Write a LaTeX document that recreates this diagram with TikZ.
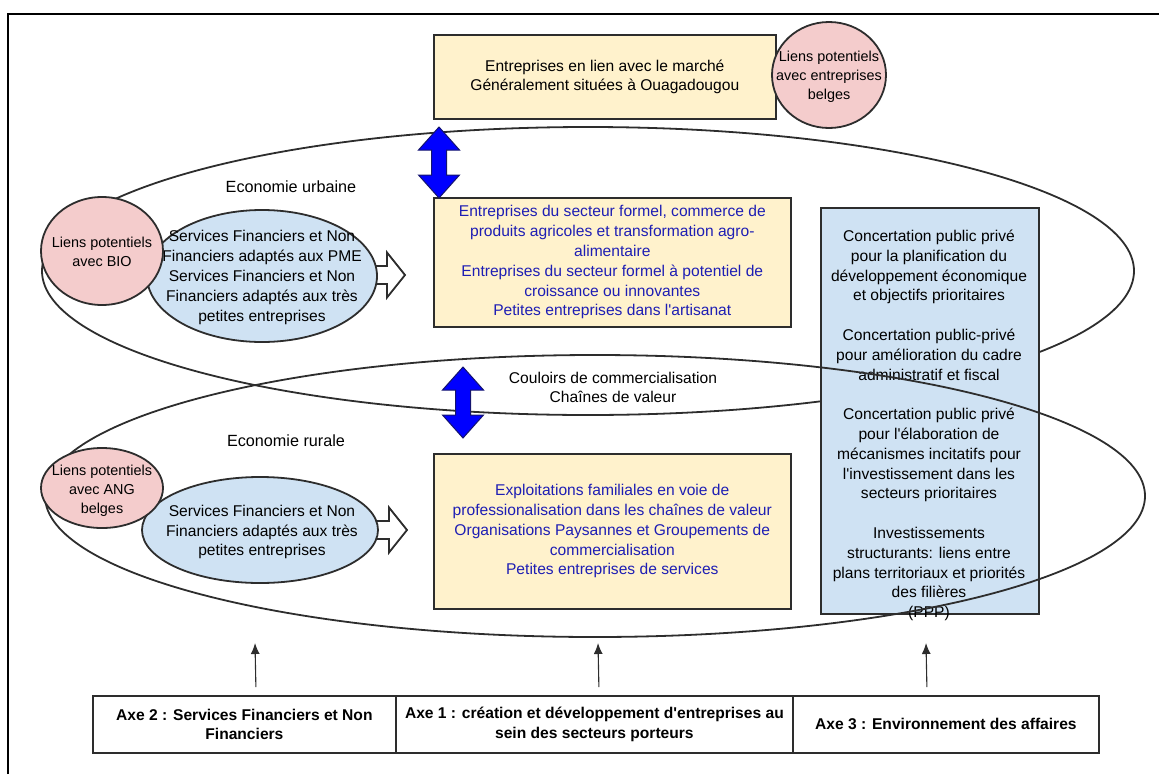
\documentclass[tikz,border=0pt]{standalone}
\usepackage{fontspec}
\setmainfont{Liberation Sans}
\usetikzlibrary{shapes.geometric,arrows.meta}
\definecolor{boxyellow}{RGB}{255,242,204}
\definecolor{boxblue}{RGB}{207,226,243}
\definecolor{pinkfill}{RGB}{244,204,204}
\definecolor{edge}{RGB}{45,45,45}
\definecolor{bluetxt}{RGB}{30,30,180}
\definecolor{arrowblue}{RGB}{0,0,255}
\definecolor{arrowedge}{RGB}{20,20,110}
\begin{document}
\begin{tikzpicture}[x=1pt,y=-1pt,
  txt/.style={font=\fontsize{15.6}{19.8}\selectfont, align=center, inner sep=0pt},
  smalltxt/.style={font=\fontsize{14.4}{18.8}\selectfont, align=center, inner sep=0pt},
  labeltxt/.style={font=\fontsize{16.2}{19.8}\selectfont, inner sep=0pt},
  ybox/.style={rectangle, draw=edge, line width=1.6pt, fill=boxyellow, anchor=north west,
    inner sep=0pt, align=center, font=\fontsize{15.6}{19.8}\selectfont, text=bluetxt},
  bbox/.style={rectangle, draw=edge, line width=1.6pt, fill=boxblue, anchor=north west, inner sep=0pt},
  axebox/.style={rectangle, draw=edge, line width=1.8pt, fill=white, anchor=north west,
    inner sep=0pt, align=center, font=\bfseries\fontsize{15.6}{19.8}\selectfont},
  bigell/.style={ellipse, draw=edge, line width=1.8pt, inner sep=0pt},
  blueell/.style={ellipse, draw=edge, line width=1.8pt, fill=boxblue, inner sep=0pt},
  pinkell/.style={ellipse, draw=edge, line width=1.8pt, fill=pinkfill, inner sep=0pt},
  uparrow/.style={draw=edge, line width=1.1pt, -{Latex[length=11pt,width=9pt]}},
  dblarrow/.pic={
    \filldraw[fill=arrowblue, draw=arrowedge, line width=1pt]
      (0,-35.5) -- (20.5,-12.5) -- (7.5,-12.5) -- (7.5,12.5) -- (20.5,12.5) -- (0,35.5)
      -- (-20.5,12.5) -- (-7.5,12.5) -- (-7.5,-12.5) -- (-20.5,-12.5) -- cycle;},
  hollowarrow/.pic={
    \filldraw[fill=white, draw=edge, line width=1.8pt]
      (0,-9) -- (25,-9) -- (25,-22.5) -- (43,0) -- (25,22.5) -- (25,9) -- (0,9) -- cycle;}
]
\useasboundingbox (0,0) rectangle (1159,774);
% frame
\draw[line width=2.5pt, black] (8,774) -- (8,14) -- (1159,14);

% urban ellipse
\node[bigell, minimum width=1092pt, minimum height=288pt] (urban) at (588,271) {};

% top box and pink circle
\node[ybox, text=black, minimum width=342pt, minimum height=84pt] (market) at (433,34)
  {Entreprises en lien avec le marché\\Généralement situées à Ouagadougou};
\node[pinkell, minimum width=114pt, minimum height=106pt] (belg) at (829,75) {};
\node[smalltxt] (belgt) at (829,77) {Liens potentiels\\avec entreprises\\belges};

% urban enterprises box
\node[ybox, minimum width=357pt, minimum height=129pt] (formal) at (433,197)
  {Entreprises du secteur formel, commerce de\\produits agricoles et transformation agro-\\alimentaire\\Entreprises du secteur formel à potentiel de\\croissance ou innovantes\\Petites entreprises dans l\textquotesingle artisanat};

% business environment box
\node[bbox, minimum width=218pt, minimum height=406pt] (env) at (820,207) {};
\node[txt] (envt) at (929,425.5)
  {Concertation public privé\\pour la planification du\\développement économique\\et objectifs prioritaires\\[19.8pt]
   Concertation public-privé\\pour amélioration du cadre\\administratif et fiscal\\[19.8pt]
   Concertation public privé\\pour l\textquotesingle élaboration de\\mécanismes incitatifs pour\\l\textquotesingle investissement dans les\\secteurs prioritaires\\[19.8pt]
   Investissements\\structurants: liens entre\\plans territoriaux et priorités\\des filières\\(PPP)};

% rural ellipse
\node[bigell, minimum width=1100pt, minimum height=282pt] (rural) at (595,496) {};

% hollow arrows
\pic (h1) at (362,275) {hollowarrow};
\pic (h2) at (364,530) {hollowarrow};

% financial services ellipses
\node[blueell, minimum width=230pt, minimum height=132pt] (sf1) at (262,276) {};
\node[txt] (sf1t) at (262,277.5)
  {Services Financiers et Non\\Financiers adaptés aux PME\\Services Financiers et Non\\Financiers adaptés aux très\\petites entreprises};
\node[pinkell, minimum width=122pt, minimum height=108pt] (bio) at (102,251) {};
\node[smalltxt] (biot) at (102,252) {Liens potentiels\\avec BIO};

\node[blueell, minimum width=236pt, minimum height=106pt] (sf2) at (260,530) {};
\node[txt] (sf2t) at (262,532)
  {Services Financiers et Non\\Financiers adaptés aux très\\petites entreprises};
\node[pinkell, minimum width=122pt, minimum height=80pt] (ang) at (102,488) {};
\node[smalltxt] (angt) at (102,491) {Liens potentiels\\avec ANG\\belges};

% rural enterprises box
\node[ybox, minimum width=357pt, minimum height=155pt] (farm) at (433,453)
  {Exploitations familiales en voie de\\professionalisation dans les chaînes de valeur\\Organisations Paysannes et Groupements de\\commercialisation\\Petites entreprises de services};

% blue double arrows
\pic (b1) at (439,162.5) {dblarrow};
\pic (b2) at (463,402.5) {dblarrow};

% labels
\node[labeltxt] (urbl) at (291,187) {Economie urbaine};
\node[labeltxt] (rurl) at (286,441) {Economie rurale};
\node[txt] (coul) at (613,387.5) {Couloirs de commercialisation\\Chaînes de valeur};

% axes
\node[axebox, minimum width=303pt, minimum height=57pt] (axe2) at (92,695)
  {Axe 2 : Services Financiers et Non\\Financiers};
\node[axebox, minimum width=397pt, minimum height=57pt] (axe1) at (395,695)
  {Axe 1 : création et développement d\textquotesingle entreprises au\\sein des secteurs porteurs};
\node[axebox, minimum width=306pt, minimum height=57pt] (axe3) at (792,695)
  {Axe 3 : Environnement des affaires};

\coordinate (t2) at (255,643);
\coordinate (t1) at (598,643);
\coordinate (t3) at (926,643);
\draw[uparrow] ([xshift=11.5pt,yshift=8pt]axe2.north) -- (t2);
\draw[uparrow] ([xshift=4.5pt,yshift=8pt]axe1.north) -- (t1);
\draw[uparrow] ([xshift=-19pt,yshift=8pt]axe3.north) -- (t3);
\end{tikzpicture}
\end{document}
